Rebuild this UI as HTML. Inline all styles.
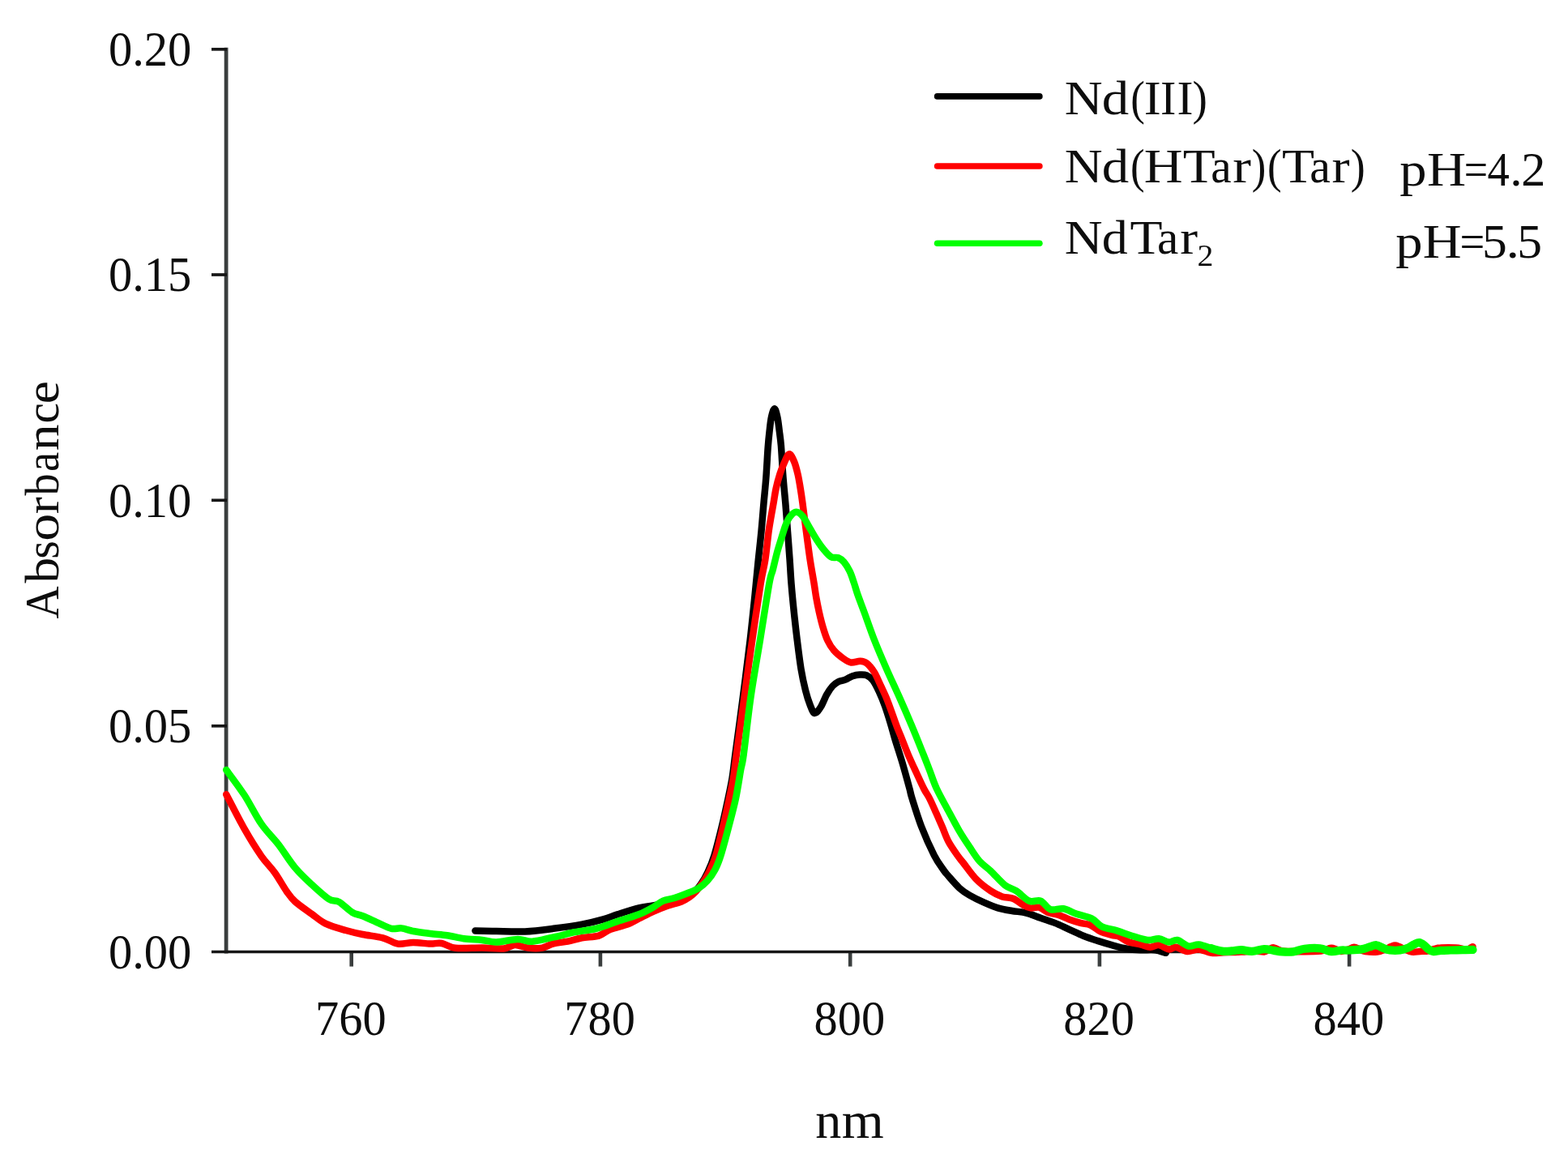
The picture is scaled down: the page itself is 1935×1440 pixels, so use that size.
<!DOCTYPE html>
<html lang="en"><head><meta charset="utf-8"><title>Absorbance spectra</title>
<style>html,body{margin:0;padding:0;background:#fff}svg{display:block;filter:blur(0.6px)}text{font-family:"Liberation Serif",serif;fill:#0d0d0d}</style></head><body>
<svg width="1935" height="1440" viewBox="0 0 1935 1440">
<rect width="1935" height="1440" fill="#fff"/>
<g fill="none">
<path stroke="#3a3e3e" stroke-width="4.8" d="M279.1 58.8V1176.6"/>
<path stroke="#3a3e3e" stroke-width="4.6" d="M433.70 1174.5V1192.6"/>
<path stroke="#3a3e3e" stroke-width="4.6" d="M740.90 1174.5V1192.6"/>
<path stroke="#3a3e3e" stroke-width="4.6" d="M1049.20 1174.5V1192.6"/>
<path stroke="#3a3e3e" stroke-width="4.6" d="M1356.90 1174.5V1192.6"/>
<path stroke="#3a3e3e" stroke-width="4.6" d="M1665.10 1174.5V1192.6"/>
<path stroke="#161616" stroke-width="3.7" d="M261 1174.5H1819.5"/>
<path stroke="#161616" stroke-width="3.7" d="M261 60.8H280.0"/>
<path stroke="#161616" stroke-width="3.7" d="M261 339.0H280.0"/>
<path stroke="#161616" stroke-width="3.7" d="M261 617.3H280.0"/>
<path stroke="#161616" stroke-width="3.7" d="M261 895.8H280.0"/>
</g>
<g font-size="61.5" text-anchor="middle">
<text transform="translate(432.9 1276.9) scale(0.95 1)">760</text>
<text transform="translate(740.1 1276.9) scale(0.95 1)">780</text>
<text transform="translate(1048.4 1276.9) scale(0.95 1)">800</text>
<text transform="translate(1356.1 1276.9) scale(0.95 1)">820</text>
<text transform="translate(1664.3 1276.9) scale(0.95 1)">840</text>
</g>
<g font-size="61.5" text-anchor="end">
<text transform="translate(236.4 81.4) scale(0.952 1)">0.20</text>
<text transform="translate(236.4 358.9) scale(0.952 1)">0.15</text>
<text transform="translate(236.4 638.4) scale(0.952 1)">0.10</text>
<text transform="translate(236.4 915.6) scale(0.952 1)">0.05</text>
<text transform="translate(236.4 1195.4) scale(0.952 1)">0.00</text>
</g>
<g fill="none" stroke-width="8.50" stroke-linejoin="round" stroke-linecap="round" transform="scale(1.000 1)">
<path stroke="#000" d="M586.40 1148.5C590.78 1148.6 602.45 1148.8 612.70 1149.0C622.95 1149.2 636.18 1149.9 647.90 1149.4C659.62 1148.9 671.32 1147.3 683.00 1145.8C694.68 1144.3 707.75 1142.5 718.00 1140.6C728.25 1138.7 737.17 1136.5 744.50 1134.4C751.83 1132.4 754.68 1130.6 762.00 1128.3C769.32 1126.0 781.07 1122.2 788.40 1120.4C795.73 1118.6 799.90 1118.7 806.00 1117.5C812.10 1116.3 818.50 1115.2 825.00 1113.5C831.50 1111.8 839.83 1109.5 845.00 1107.5C850.17 1105.5 852.67 1104.2 856.00 1101.5C859.33 1098.8 862.08 1095.2 865.00 1091.0C867.92 1086.8 870.75 1081.9 873.50 1076.0C876.25 1070.1 878.63 1064.7 881.50 1055.4C884.37 1046.1 887.85 1032.0 890.70 1020.3C893.55 1008.6 896.45 995.1 898.60 985.1C900.75 975.1 902.13 969.0 903.60 960.0C905.07 951.0 905.20 947.5 907.40 930.9C909.60 914.3 913.77 884.0 916.80 860.6C919.83 837.2 923.12 811.6 925.60 790.3C928.08 769.0 930.00 749.6 931.70 733.0C933.40 716.4 934.50 703.8 935.80 690.9C937.10 678.0 938.38 667.4 939.50 655.7C940.62 644.0 941.53 631.6 942.50 620.6C943.47 609.6 944.43 601.4 945.30 590.0C946.17 578.6 946.98 561.7 947.70 552.0C948.42 542.3 948.90 538.2 949.60 532.0C950.30 525.8 950.87 519.6 951.90 515.0C952.93 510.4 954.55 504.3 955.80 504.3C957.05 504.3 958.40 510.4 959.40 515.0C960.40 519.6 961.05 526.2 961.80 532.0C962.55 537.8 963.23 542.0 963.90 550.0C964.57 558.0 965.22 571.7 965.80 580.0C966.38 588.3 966.82 593.2 967.40 600.0C967.98 606.8 968.53 611.3 969.30 620.6C970.07 629.9 971.12 644.0 972.00 655.7C972.88 667.4 973.85 680.2 974.60 690.9C975.35 701.6 975.63 709.3 976.50 720.0C977.37 730.7 978.58 743.4 979.80 755.1C981.02 766.8 982.35 778.6 983.80 790.3C985.25 802.0 986.80 815.1 988.50 825.4C990.20 835.6 992.17 844.5 994.00 851.8C995.83 859.1 997.62 864.7 999.50 869.4C1001.38 874.1 1003.08 879.5 1005.30 880.0C1007.52 880.5 1010.32 876.3 1012.80 872.5C1015.28 868.7 1017.75 861.4 1020.20 857.1C1022.65 852.8 1025.12 849.1 1027.50 846.5C1029.88 843.9 1031.87 842.5 1034.50 841.2C1037.13 839.9 1040.37 839.8 1043.30 838.6C1046.23 837.4 1049.17 835.2 1052.10 834.2C1055.03 833.2 1057.98 832.6 1060.90 832.5C1063.82 832.4 1066.88 832.1 1069.60 833.3C1072.32 834.5 1074.67 836.1 1077.20 839.5C1079.73 842.9 1082.33 848.2 1084.80 853.5C1087.27 858.8 1089.67 864.6 1092.00 871.1C1094.33 877.6 1096.67 885.2 1098.80 892.2C1100.93 899.2 1102.33 905.1 1104.80 913.3C1107.27 921.5 1110.67 931.4 1113.60 941.4C1116.53 951.4 1120.42 965.7 1122.40 973.0C1124.38 980.3 1123.03 977.2 1125.50 985.1C1127.97 993.0 1132.65 1008.6 1137.20 1020.3C1141.75 1032.0 1148.33 1046.6 1152.80 1055.4C1157.27 1064.2 1161.13 1068.8 1164.00 1073.0C1166.87 1077.2 1166.67 1076.7 1170.00 1080.5C1173.33 1084.3 1179.60 1091.8 1184.00 1095.8C1188.40 1099.8 1191.42 1101.7 1196.40 1104.6C1201.38 1107.5 1208.05 1110.8 1213.90 1113.4C1219.75 1116.0 1225.65 1118.6 1231.50 1120.4C1237.35 1122.2 1243.15 1123.0 1249.00 1124.0C1254.85 1125.0 1260.73 1125.1 1266.60 1126.6C1272.47 1128.0 1278.33 1130.7 1284.20 1132.7C1290.07 1134.8 1295.93 1136.6 1301.80 1138.9C1307.67 1141.2 1313.55 1144.2 1319.40 1146.8C1325.25 1149.4 1331.05 1152.3 1336.90 1154.7C1342.75 1157.1 1348.65 1159.0 1354.50 1160.9C1360.35 1162.8 1366.15 1164.5 1372.00 1166.1C1377.85 1167.7 1383.73 1169.5 1389.60 1170.5C1395.47 1171.5 1401.33 1172.0 1407.20 1172.3C1413.07 1172.6 1419.53 1171.7 1424.80 1172.3C1430.07 1172.9 1436.47 1175.2 1438.80 1175.8"/>
<path stroke="#f00" d="M279.20 980.2C282.95 987.3 294.48 1010.2 301.70 1022.9C308.92 1035.6 316.25 1047.3 322.50 1056.3C328.75 1065.3 333.98 1069.7 339.20 1077.0C344.42 1084.3 349.63 1094.1 353.80 1100.0C357.97 1105.9 359.00 1107.8 364.20 1112.5C369.40 1117.2 378.75 1123.5 385.00 1128.0C391.25 1132.5 394.75 1136.3 401.70 1139.6C408.65 1142.9 419.07 1145.8 426.70 1148.0C434.33 1150.2 439.87 1151.5 447.50 1153.0C455.13 1154.5 465.25 1155.4 472.50 1157.3C479.75 1159.2 484.75 1163.6 491.00 1164.6C497.25 1165.5 503.37 1163.0 510.00 1163.0C516.63 1163.0 524.97 1164.4 530.80 1164.6C536.63 1164.8 539.80 1163.1 545.00 1164.0C550.20 1164.9 553.67 1168.9 562.00 1169.8C570.33 1170.7 585.08 1169.5 595.00 1169.6C604.92 1169.7 614.73 1171.0 621.50 1170.4C628.27 1169.8 630.62 1166.1 635.60 1166.0C640.58 1165.9 645.83 1169.0 651.40 1169.6C656.97 1170.2 663.73 1170.5 669.00 1169.6C674.27 1168.7 677.73 1165.6 683.00 1164.3C688.27 1163.0 694.77 1162.9 700.60 1161.7C706.43 1160.5 711.60 1158.5 718.00 1157.3C724.40 1156.1 733.12 1156.4 739.00 1154.6C744.88 1152.8 747.40 1149.0 753.30 1146.7C759.20 1144.4 768.55 1142.8 774.40 1140.6C780.25 1138.4 783.13 1136.1 788.40 1133.5C793.67 1130.9 800.13 1127.4 806.00 1124.8C811.87 1122.2 817.77 1119.8 823.60 1117.7C829.43 1115.7 836.60 1114.2 841.00 1112.5C845.40 1110.8 847.05 1109.6 850.00 1107.5C852.95 1105.4 855.70 1103.2 858.70 1100.0C861.70 1096.8 865.12 1092.3 868.00 1088.0C870.88 1083.7 873.43 1079.4 876.00 1074.0C878.57 1068.6 880.70 1064.4 883.40 1055.4C886.10 1046.5 889.43 1032.0 892.20 1020.3C894.97 1008.6 897.87 995.1 900.00 985.1C902.13 975.1 903.52 969.0 905.00 960.0C906.48 951.0 906.65 947.5 908.90 930.9C911.15 914.3 915.28 884.0 918.50 860.6C921.72 837.2 924.83 813.7 928.20 790.3C931.57 766.9 936.02 736.6 938.70 720.0C941.38 703.4 942.65 701.6 944.30 690.9C945.95 680.2 947.37 664.7 948.60 655.7C949.83 646.7 950.70 642.6 951.70 636.8C952.70 630.9 953.62 626.2 954.60 620.6C955.58 615.0 956.32 608.9 957.60 603.0C958.88 597.1 960.65 590.6 962.30 585.4C963.95 580.2 965.58 576.0 967.50 571.8C969.42 567.6 971.72 560.8 973.80 560.4C975.88 560.0 978.20 565.3 980.00 569.5C981.80 573.7 983.30 579.8 984.60 585.4C985.90 591.0 986.83 597.1 987.80 603.0C988.77 608.9 989.22 611.8 990.40 620.6C991.58 629.4 993.35 644.0 994.90 655.7C996.45 667.4 998.08 680.2 999.70 690.9C1001.32 701.6 1003.33 712.2 1004.60 720.0C1005.87 727.8 1006.27 731.8 1007.30 737.6C1008.33 743.5 1009.48 749.2 1010.80 755.1C1012.12 761.0 1013.45 766.8 1015.20 772.7C1016.95 778.6 1018.97 785.3 1021.30 790.3C1023.63 795.3 1025.83 798.8 1029.20 802.6C1032.57 806.4 1037.98 810.6 1041.50 813.1C1045.02 815.6 1046.97 817.0 1050.30 817.5C1053.63 818.0 1058.33 815.7 1061.50 815.8C1064.67 815.9 1066.45 816.0 1069.30 818.2C1072.15 820.4 1075.90 824.9 1078.60 829.0C1081.30 833.1 1083.00 837.7 1085.50 843.0C1088.00 848.3 1091.15 854.8 1093.60 860.6C1096.05 866.5 1098.05 872.2 1100.20 878.1C1102.35 884.0 1104.27 889.8 1106.50 895.7C1108.73 901.6 1111.25 907.4 1113.60 913.3C1115.95 919.2 1118.12 925.0 1120.60 930.9C1123.08 936.8 1125.27 941.4 1128.50 948.4C1131.73 955.4 1136.92 966.9 1140.00 973.0C1143.08 979.1 1144.50 980.2 1147.00 985.1C1149.50 990.0 1152.37 996.6 1155.00 1002.5C1157.63 1008.4 1160.22 1014.3 1162.80 1020.3C1165.38 1026.3 1167.38 1032.7 1170.50 1038.5C1173.62 1044.3 1178.42 1051.0 1181.50 1055.4C1184.58 1059.8 1185.07 1060.0 1189.00 1065.0C1192.93 1070.0 1199.48 1079.6 1205.10 1085.3C1210.72 1091.0 1217.42 1095.9 1222.70 1099.4C1227.98 1102.9 1232.12 1104.8 1236.80 1106.4C1241.48 1108.0 1246.42 1107.2 1250.80 1109.0C1255.18 1110.8 1259.58 1115.0 1263.10 1116.9C1266.62 1118.8 1268.67 1120.0 1271.90 1120.4C1275.13 1120.9 1278.98 1118.7 1282.50 1119.6C1286.02 1120.5 1288.92 1124.1 1293.00 1125.7C1297.08 1127.3 1302.60 1127.7 1307.00 1129.2C1311.40 1130.7 1315.00 1132.9 1319.40 1134.5C1323.80 1136.1 1329.02 1137.7 1333.40 1138.9C1337.78 1140.1 1341.60 1139.8 1345.70 1141.5C1349.80 1143.2 1353.62 1147.4 1358.00 1149.4C1362.38 1151.5 1368.18 1152.8 1372.00 1153.8C1375.82 1154.8 1377.37 1154.1 1380.90 1155.6C1384.43 1157.1 1388.82 1161.0 1393.20 1162.6C1397.58 1164.2 1402.82 1164.3 1407.20 1165.3C1411.58 1166.3 1415.70 1168.7 1419.50 1168.8C1423.30 1168.9 1426.18 1165.7 1430.00 1166.1C1433.82 1166.5 1438.90 1171.0 1442.40 1171.4C1445.90 1171.9 1447.20 1168.4 1451.00 1168.8C1454.80 1169.2 1460.48 1173.6 1465.20 1174.0C1469.92 1174.4 1474.35 1171.1 1479.30 1171.4C1484.25 1171.7 1489.78 1175.2 1494.90 1175.8C1500.02 1176.4 1503.82 1175.5 1510.00 1175.3C1516.18 1175.1 1525.67 1174.9 1532.00 1174.6C1538.33 1174.3 1543.33 1173.5 1548.00 1173.5C1552.67 1173.5 1557.00 1174.8 1560.00 1174.5C1563.00 1174.2 1564.13 1172.4 1566.00 1171.5C1567.87 1170.6 1569.37 1169.3 1571.20 1169.3C1573.03 1169.3 1574.70 1170.8 1577.00 1171.5C1579.30 1172.2 1579.47 1173.3 1585.00 1173.8C1590.53 1174.2 1602.70 1174.2 1610.20 1174.2C1617.70 1174.2 1625.53 1174.0 1630.00 1173.6C1634.47 1173.1 1634.83 1172.1 1637.00 1171.5C1639.17 1170.9 1641.00 1169.8 1643.00 1169.8C1645.00 1169.8 1647.00 1170.8 1649.00 1171.5C1651.00 1172.2 1652.50 1174.0 1655.00 1174.0C1657.50 1174.0 1661.33 1172.4 1664.00 1171.5C1666.67 1170.6 1668.67 1168.8 1671.00 1168.8C1673.33 1168.8 1675.67 1170.6 1678.00 1171.5C1680.33 1172.4 1681.42 1173.5 1685.00 1174.0C1688.58 1174.5 1695.33 1175.0 1699.50 1174.5C1703.67 1174.0 1707.25 1172.0 1710.00 1171.0C1712.75 1170.0 1714.07 1169.0 1716.00 1168.3C1717.93 1167.6 1719.77 1166.6 1721.60 1166.6C1723.43 1166.6 1725.10 1167.6 1727.00 1168.3C1728.90 1169.0 1730.45 1170.0 1733.00 1171.0C1735.55 1172.0 1739.03 1174.1 1742.30 1174.6C1745.57 1175.1 1749.15 1174.2 1752.60 1174.0C1756.05 1173.8 1760.10 1173.7 1763.00 1173.2C1765.90 1172.7 1767.55 1171.6 1770.00 1171.0C1772.45 1170.4 1773.32 1169.8 1777.70 1169.6C1782.08 1169.3 1791.75 1169.3 1796.30 1169.5C1800.85 1169.7 1802.55 1170.6 1805.00 1171.0C1807.45 1171.4 1809.33 1172.2 1811.00 1172.0C1812.67 1171.8 1813.92 1170.1 1815.00 1169.5C1816.08 1168.9 1817.08 1168.4 1817.50 1168.2"/>
<path stroke="#0f0" d="M279.20 950.0C282.95 955.2 294.48 970.2 301.70 981.3C308.92 992.4 315.57 1006.6 322.50 1016.7C329.43 1026.8 336.35 1032.7 343.30 1041.7C350.25 1050.7 357.25 1062.5 364.20 1070.8C371.15 1079.1 378.07 1085.3 385.00 1091.7C391.93 1098.1 400.25 1105.9 405.80 1109.4C411.35 1112.9 413.43 1110.1 418.30 1112.9C423.17 1115.7 430.13 1123.1 435.00 1126.0C439.87 1128.9 441.95 1127.9 447.50 1130.2C453.05 1132.5 462.38 1137.0 468.30 1139.6C474.22 1142.2 478.48 1144.8 483.00 1145.8C487.52 1146.8 490.90 1144.9 495.40 1145.4C499.90 1145.9 504.10 1147.9 510.00 1149.0C515.90 1150.1 523.85 1151.1 530.80 1152.0C537.75 1152.9 544.75 1153.2 551.70 1154.2C558.65 1155.2 565.28 1157.3 572.50 1158.3C579.72 1159.3 588.30 1159.3 595.00 1160.0C601.70 1160.7 605.37 1162.7 612.70 1162.5C620.03 1162.3 631.68 1159.1 639.00 1159.0C646.32 1158.9 649.27 1162.1 656.60 1161.7C663.93 1161.3 674.20 1158.3 683.00 1156.4C691.80 1154.5 700.62 1152.0 709.40 1150.2C718.18 1148.4 726.93 1148.0 735.70 1145.8C744.47 1143.6 753.22 1139.9 762.00 1137.0C770.78 1134.1 781.07 1131.2 788.40 1128.3C795.73 1125.4 801.02 1122.3 806.00 1119.5C810.98 1116.7 813.90 1113.5 818.30 1111.6C822.70 1109.7 827.12 1109.7 832.40 1108.0C837.68 1106.3 845.02 1103.5 850.00 1101.5C854.98 1099.5 858.50 1098.2 862.30 1095.8C866.10 1093.4 869.43 1090.8 872.80 1087.0C876.17 1083.2 879.72 1078.3 882.50 1073.0C885.28 1067.7 886.72 1064.2 889.50 1055.4C892.28 1046.6 896.12 1032.0 899.20 1020.3C902.28 1008.6 905.52 996.8 908.00 985.1C910.48 973.4 912.48 959.0 914.10 950.0C915.72 941.0 915.65 945.8 917.70 930.9C919.75 916.0 923.03 884.0 926.40 860.6C929.77 837.2 934.08 813.7 937.90 790.3C941.72 766.9 946.67 734.5 949.30 720.0C951.93 705.5 952.10 709.5 953.70 703.2C955.30 696.9 957.15 688.5 958.90 682.0C960.65 675.5 962.43 670.2 964.20 664.5C965.97 658.8 967.73 652.5 969.50 648.0C971.27 643.5 972.63 640.3 974.80 637.6C976.97 634.9 979.90 631.9 982.50 631.8C985.10 631.7 987.62 633.5 990.40 636.8C993.18 640.1 996.25 646.6 999.20 651.5C1002.15 656.4 1005.15 661.8 1008.10 666.3C1011.05 670.8 1013.97 675.1 1016.90 678.6C1019.83 682.1 1022.77 685.7 1025.70 687.3C1028.63 688.9 1031.87 687.2 1034.50 688.2C1037.13 689.2 1039.15 690.7 1041.50 693.5C1043.85 696.3 1046.55 700.6 1048.60 704.9C1050.65 709.1 1052.20 714.3 1053.80 719.0C1055.40 723.7 1056.10 727.0 1058.20 733.0C1060.30 739.0 1062.90 745.6 1066.40 755.1C1069.90 764.6 1074.60 778.6 1079.20 790.3C1083.80 802.0 1088.87 813.7 1094.00 825.4C1099.13 837.1 1104.80 848.9 1110.00 860.6C1115.20 872.3 1120.28 884.0 1125.20 895.7C1130.12 907.4 1135.87 921.9 1139.50 930.9C1143.13 939.9 1144.28 943.0 1147.00 950.0C1149.72 957.0 1151.97 964.7 1155.80 973.0C1159.63 981.3 1165.30 991.2 1170.00 1000.0C1174.70 1008.8 1179.60 1018.1 1184.00 1025.6C1188.40 1033.1 1192.28 1038.8 1196.40 1044.9C1200.52 1051.1 1204.32 1057.5 1208.70 1062.5C1213.08 1067.5 1217.43 1069.8 1222.70 1074.8C1227.97 1079.8 1235.03 1088.2 1240.30 1092.3C1245.57 1096.4 1249.32 1096.2 1254.30 1099.4C1259.28 1102.6 1265.22 1109.7 1270.20 1111.7C1275.18 1113.8 1279.82 1110.0 1284.20 1111.7C1288.58 1113.5 1291.82 1120.6 1296.50 1122.2C1301.18 1123.8 1307.05 1120.4 1312.30 1121.3C1317.55 1122.2 1322.13 1125.5 1328.00 1127.5C1333.87 1129.5 1342.20 1131.0 1347.50 1133.6C1352.80 1136.2 1354.55 1140.8 1359.80 1143.3C1365.05 1145.8 1372.85 1146.7 1379.00 1148.6C1385.15 1150.5 1390.53 1152.8 1396.70 1154.7C1402.87 1156.6 1410.45 1159.4 1416.00 1160.0C1421.55 1160.6 1425.60 1157.8 1430.00 1158.2C1434.40 1158.6 1438.58 1162.3 1442.40 1162.6C1446.22 1162.9 1448.80 1159.2 1452.90 1160.0C1457.00 1160.8 1462.60 1166.6 1467.00 1167.5C1471.40 1168.4 1474.80 1165.1 1479.30 1165.5C1483.80 1165.9 1491.55 1169.2 1494.00 1170.0"/>
<path stroke="#0f0" stroke-width="10.2" d="M1494.00 1170.0C1496.33 1170.6 1503.67 1173.0 1508.00 1173.6C1512.33 1174.2 1516.00 1173.7 1520.00 1173.4C1524.00 1173.2 1527.83 1172.0 1532.00 1172.1C1536.17 1172.2 1540.33 1174.1 1545.00 1173.9C1549.67 1173.7 1555.50 1171.3 1560.00 1171.1C1564.50 1170.9 1568.33 1172.4 1572.00 1172.9C1575.67 1173.5 1578.00 1174.2 1582.00 1174.4C1586.00 1174.7 1591.33 1175.0 1596.00 1174.4C1600.67 1173.8 1604.50 1171.4 1610.00 1170.7C1615.50 1170.0 1623.50 1169.6 1629.00 1170.2C1634.50 1170.8 1638.67 1173.8 1643.00 1174.2C1647.33 1174.6 1651.50 1172.8 1655.00 1172.5C1658.50 1172.2 1659.83 1172.7 1664.00 1172.5C1668.17 1172.3 1675.67 1172.1 1680.00 1171.4C1684.33 1170.7 1686.93 1169.3 1690.00 1168.4C1693.07 1167.5 1695.57 1166.0 1698.40 1166.2C1701.23 1166.5 1704.23 1168.9 1707.00 1169.9C1709.77 1170.9 1711.50 1172.0 1715.00 1172.4C1718.50 1172.8 1724.17 1172.9 1728.00 1172.4C1731.83 1171.9 1735.17 1170.6 1738.00 1169.4C1740.83 1168.2 1742.77 1166.4 1745.00 1165.4C1747.23 1164.4 1749.32 1163.0 1751.40 1163.2C1753.48 1163.4 1755.57 1165.0 1757.50 1166.4C1759.43 1167.8 1761.08 1170.1 1763.00 1171.4C1764.92 1172.7 1766.50 1173.9 1769.00 1174.1C1771.50 1174.4 1774.50 1173.2 1778.00 1172.9C1781.50 1172.6 1785.50 1172.6 1790.00 1172.5C1794.50 1172.4 1800.42 1172.2 1805.00 1172.1C1809.58 1172.0 1815.42 1171.9 1817.50 1171.9"/>
<path stroke="#000" stroke-width="7.6" d="M1156.6 118.9H1282.9"/>
<path stroke="#f00" stroke-width="7.6" d="M1156.6 205H1282.9"/>
<path stroke="#0f0" stroke-width="7.6" d="M1156.6 300.2H1282.9"/>
</g>
<text x="1313.76" y="140.6" font-size="60.0"><tspan textLength="46.88" lengthAdjust="spacingAndGlyphs">N</tspan><tspan textLength="33.43" lengthAdjust="spacingAndGlyphs" dx="-0.99">d</tspan><tspan textLength="17.58" lengthAdjust="spacingAndGlyphs" dx="2.06">(</tspan><tspan textLength="21.00" lengthAdjust="spacingAndGlyphs" dx="-0.93">I</tspan><tspan textLength="19.34" lengthAdjust="spacingAndGlyphs" dx="-0.91">I</tspan><tspan textLength="19.98" lengthAdjust="spacingAndGlyphs" dx="1.29">I</tspan><tspan textLength="18.42" lengthAdjust="spacingAndGlyphs" dx="-0.93">)</tspan></text>
<text x="1313.76" y="225.0" font-size="60.0"><tspan textLength="46.88" lengthAdjust="spacingAndGlyphs">N</tspan><tspan textLength="33.43" lengthAdjust="spacingAndGlyphs" dx="-0.99">d</tspan><tspan textLength="17.58" lengthAdjust="spacingAndGlyphs" dx="2.01">(</tspan><tspan textLength="47.89" lengthAdjust="spacingAndGlyphs" dx="-0.85">H</tspan><tspan textLength="35.37" lengthAdjust="spacingAndGlyphs" dx="0.12">T</tspan><tspan textLength="25.40" lengthAdjust="spacingAndGlyphs" dx="-1.02">a</tspan><tspan textLength="22.71" lengthAdjust="spacingAndGlyphs" dx="1.74">r</tspan><tspan textLength="17.58" lengthAdjust="spacingAndGlyphs" dx="0.70">)</tspan><tspan textLength="17.58" lengthAdjust="spacingAndGlyphs" dx="1.71">(</tspan><tspan textLength="35.48" lengthAdjust="spacingAndGlyphs" dx="0.42">T</tspan><tspan textLength="25.62" lengthAdjust="spacingAndGlyphs" dx="-1.14">a</tspan><tspan textLength="22.16" lengthAdjust="spacingAndGlyphs" dx="1.57">r</tspan><tspan textLength="18.03" lengthAdjust="spacingAndGlyphs" dx="1.05">)</tspan></text>
<text x="1313.76" y="312.5" font-size="60.0"><tspan textLength="46.88" lengthAdjust="spacingAndGlyphs">N</tspan><tspan textLength="31.99" lengthAdjust="spacingAndGlyphs" dx="-0.89">d</tspan><tspan textLength="35.48" lengthAdjust="spacingAndGlyphs" dx="2.69">T</tspan><tspan textLength="26.30" lengthAdjust="spacingAndGlyphs" dx="-1.89">a</tspan><tspan textLength="21.84" lengthAdjust="spacingAndGlyphs" dx="2.07">r</tspan><tspan textLength="19.92" lengthAdjust="spacingAndGlyphs" dx="-0.75" font-size="37.3" dy="15.6">2</tspan></text>
<text x="1727.30" y="229.4" font-size="58.5"><tspan textLength="33.34" lengthAdjust="spacingAndGlyphs">p</tspan><tspan textLength="48.16" lengthAdjust="spacingAndGlyphs" dx="0.35">H</tspan><tspan textLength="29.35" lengthAdjust="spacingAndGlyphs" dx="-2.45">=</tspan><tspan textLength="27.31" lengthAdjust="spacingAndGlyphs" dx="-0.54">4</tspan><tspan textLength="15.42" lengthAdjust="spacingAndGlyphs" dx="0.37">.</tspan><tspan textLength="30.12" lengthAdjust="spacingAndGlyphs" dx="-1.42">2</tspan></text>
<text x="1722.15" y="317.8" font-size="58.5"><tspan textLength="33.34" lengthAdjust="spacingAndGlyphs">p</tspan><tspan textLength="47.89" lengthAdjust="spacingAndGlyphs" dx="0.23">H</tspan><tspan textLength="30.81" lengthAdjust="spacingAndGlyphs" dx="-2.15">=</tspan><tspan textLength="30.75" lengthAdjust="spacingAndGlyphs" dx="-3.26">5</tspan><tspan textLength="16.50" lengthAdjust="spacingAndGlyphs" dx="-1.36">.</tspan><tspan textLength="30.75" lengthAdjust="spacingAndGlyphs" dx="-2.68">5</tspan></text>
<text x="1006.31" y="1404.0" font-size="63.0"><tspan textLength="32.06" lengthAdjust="spacingAndGlyphs">n</tspan><tspan textLength="52.03" lengthAdjust="spacingAndGlyphs" dx="0.49">m</tspan></text>
<text transform="translate(71.5 763.3) rotate(-90)" x="-0.16" y="0.0" font-size="60.0"><tspan textLength="40.16" lengthAdjust="spacingAndGlyphs">A</tspan><tspan textLength="31.62" lengthAdjust="spacingAndGlyphs" dx="3.70">b</tspan><tspan textLength="22.60" lengthAdjust="spacingAndGlyphs" dx="-1.84">s</tspan><tspan textLength="34.20" lengthAdjust="spacingAndGlyphs" dx="-0.48">o</tspan><tspan textLength="20.96" lengthAdjust="spacingAndGlyphs" dx="-0.66">r</tspan><tspan textLength="27.18" lengthAdjust="spacingAndGlyphs" dx="1.60">b</tspan><tspan textLength="24.16" lengthAdjust="spacingAndGlyphs" dx="2.31">a</tspan><tspan textLength="32.81" lengthAdjust="spacingAndGlyphs" dx="1.81">n</tspan><tspan textLength="25.45" lengthAdjust="spacingAndGlyphs" dx="0.92">c</tspan><tspan textLength="28.18" lengthAdjust="spacingAndGlyphs" dx="-1.19">e</tspan></text>
</svg></body></html>
